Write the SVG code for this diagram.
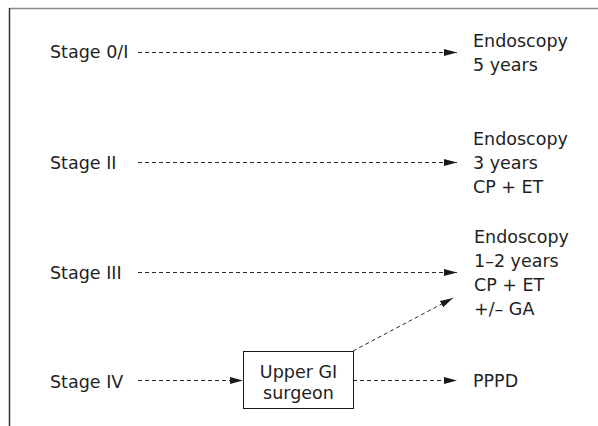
<svg xmlns="http://www.w3.org/2000/svg" width="598" height="426" viewBox="0 0 598 426">
<defs>
<marker id="ah" markerWidth="13" markerHeight="8" refX="13" refY="4" orient="auto" markerUnits="userSpaceOnUse">
<path d="M0,0.5 L13,4 L0,7.5 z" fill="#1a1a1a"/>
</marker>
<style>
text{font-family:"DejaVu Sans","Liberation Sans",sans-serif;font-size:17.5px;fill:#1e1e1e}
.c{text-anchor:middle}
.d{stroke:#2a2a2a;stroke-width:1;stroke-dasharray:4,3;fill:none;marker-end:url(#ah)}
</style>
</defs>
<rect width="598" height="426" fill="#fff"/>
<g id="frame">
<line x1="9.5" y1="8.5" x2="598" y2="8.5" stroke="#888" stroke-width="1.5"/>
<line x1="9.5" y1="8" x2="9.5" y2="426" stroke="#333" stroke-width="1.5"/>
</g>
<g id="connectors">
<line class="d" x1="138" y1="52.5" x2="457" y2="52.5"/>
<line class="d" x1="138" y1="162.5" x2="457" y2="162.5"/>
<line class="d" x1="138" y1="272.5" x2="457" y2="272.5"/>
<line class="d" x1="138" y1="380.5" x2="243" y2="380.5"/>
<line class="d" x1="353" y1="380.5" x2="457" y2="380.5"/>
<line class="d" x1="353" y1="351" x2="453" y2="298"/>
</g>
<g id="stage0"><text x="50" y="58">Stage 0/I</text></g>
<g id="stage2"><text x="50" y="169">Stage II</text></g>
<g id="stage3"><text x="50" y="279">Stage III</text></g>
<g id="stage4"><text x="50" y="388">Stage IV</text></g>
<g id="out0"><text x="473" y="47">Endoscopy</text><text x="473" y="71">5 years</text></g>
<g id="out2"><text x="473" y="145">Endoscopy</text><text x="473" y="169">3 years</text><text x="473" y="193">CP + ET</text></g>
<g id="out3"><text x="474" y="243">Endoscopy</text><text x="474" y="267">1–2 years</text><text x="474" y="291">CP + ET</text><text x="474" y="315">+/– GA</text></g>
<g id="surgeon"><rect x="243.5" y="351.5" width="110" height="57" fill="#fff" stroke="#1a1a1a" stroke-width="1"/><text class="c" x="298.5" y="378">Upper GI</text><text class="c" x="298.5" y="399">surgeon</text></g>
<g id="pppd"><text x="473" y="387">PPPD</text></g>
</svg>
